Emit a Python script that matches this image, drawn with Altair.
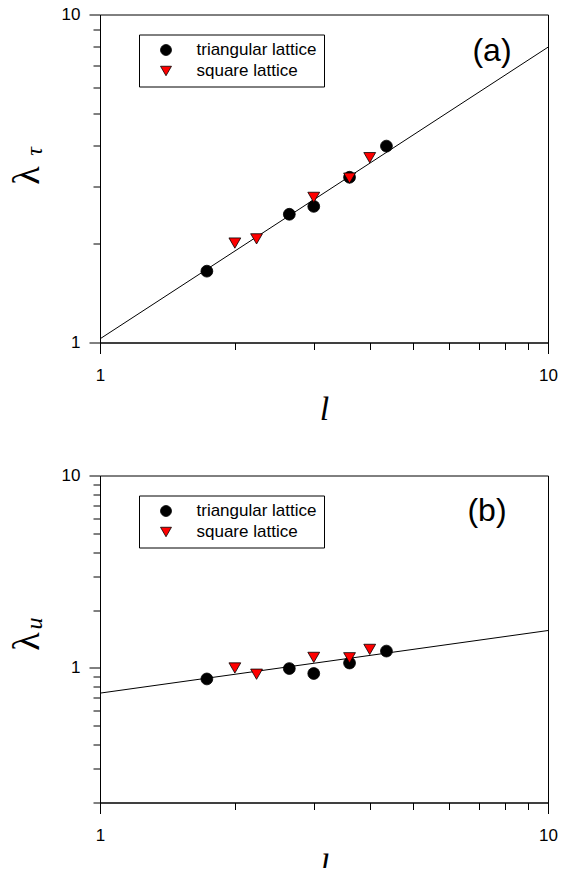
import altair as alt
import pandas as pd

# ---------------- data ----------------
series_names = ["triangular lattice", "square lattice"]
series_colors = ["black", "red"]
series_shapes = ["circle", "triangle-down"]

tri_l = [1.732, 2.646, 3.0, 3.606, 4.359]
sq_l = [2.0, 2.236, 3.0, 3.606, 4.0]

tri_tau = [1.65, 2.46, 2.60, 3.19, 3.97]
sq_tau = [2.01, 2.07, 2.77, 3.17, 3.66]

tri_u = [0.877, 0.993, 0.936, 1.061, 1.224]
sq_u = [1.0, 0.928, 1.135, 1.13, 1.249]

fit_l = [1.0, 10.0]
fit_tau = [1.026, 7.95]
fit_u = [0.74, 1.565]

x_ticks = [1, 2, 3, 4, 5, 6, 7, 8, 9, 10]
ya_ticks = [1, 2, 3, 4, 5, 6, 7, 8, 9, 10]
yb_ticks = [0.2, 0.3, 0.4, 0.5, 0.6, 0.7, 0.8, 0.9, 1, 2, 3, 4, 5, 6, 7, 8, 9, 10]

panel_labels = ["(a)", "(b)"]
y_symbol = "λ"
y_subs = ["τ", "u"]
x_title = "l"

FONT = "Liberation Sans"
SERIF = "Liberation Serif"
PLOT_W = 448

df_a = pd.DataFrame({"l": tri_l + sq_l, "v": tri_tau + sq_tau,
                     "series": [series_names[0]] * len(tri_l) + [series_names[1]] * len(sq_l)})
df_b = pd.DataFrame({"l": tri_l + sq_l, "v": tri_u + sq_u,
                     "series": [series_names[0]] * len(tri_l) + [series_names[1]] * len(sq_l)})
fit_a = pd.DataFrame({"l": fit_l, "v": fit_tau})
fit_b = pd.DataFrame({"l": fit_l, "v": fit_u})

major_test = "datum.value == 1 || datum.value == 10"
label_expr = "datum.value == 1 ? '1' : (datum.value == 10 ? '10' : '')"
tick_size = {"condition": {"test": major_test, "value": 11}, "value": 7}


def x_axis(title_pad):
    return alt.Axis(values=x_ticks, labelExpr=label_expr, tickSize=tick_size,
                    grid=False, domainColor="black", tickColor="black",
                    labelColor="black", labelFont=FONT, labelFontSize=17,
                    labelPadding=14, labelFlush=False, labelOverlap=False,
                    title=x_title, titleFont=SERIF, titleFontStyle="italic",
                    titleFontSize=34, titleFontWeight="normal", titleColor="black",
                    titlePadding=title_pad)


def y_axis(vals):
    return alt.Axis(values=vals, labelExpr=label_expr, tickSize=tick_size,
                    grid=False, domainColor="black", tickColor="black",
                    labelColor="black", labelFont=FONT, labelFontSize=17,
                    labelPadding=9, labelFlush=False, labelOverlap=False,
                    title=None)


def legend():
    return alt.Legend(title=None, orient="none", legendX=39, legendY=20,
                      direction="vertical", strokeColor="black", fillColor="white",
                      padding=7, symbolOffset=11.5, labelOffset=22,
                      labelFont=FONT, labelFontSize=17, labelColor="black",
                      symbolSize=120, symbolStrokeColor="black",
                      symbolStrokeWidth=0.8, rowPadding=3)


def panel(df, fit, y_domain, y_vals, label, sub, lab_pos, lam_pos, sub_pos, h, title_pad):
    xs = alt.Scale(type="log", domain=[1, 10], nice=False)
    ys = alt.Scale(type="log", domain=y_domain, nice=False)
    line = alt.Chart(fit).mark_line(color="black", strokeWidth=1).encode(
        x=alt.X("l:Q", scale=xs, axis=x_axis(title_pad)),
        y=alt.Y("v:Q", scale=ys, axis=y_axis(y_vals)),
    )
    pts = alt.Chart(df).mark_point(filled=True, size=140, stroke="black",
                                   strokeWidth=0.8, opacity=1).encode(
        x=alt.X("l:Q", scale=xs, axis=x_axis(title_pad)),
        y=alt.Y("v:Q", scale=ys, axis=y_axis(y_vals)),
        color=alt.Color("series:N", scale=alt.Scale(domain=series_names, range=series_colors),
                        legend=legend()),
        shape=alt.Shape("series:N", scale=alt.Scale(domain=series_names, range=series_shapes),
                        legend=legend()),
    )
    lab = alt.Chart(pd.DataFrame({"t": [label]})).mark_text(
        font=FONT, fontSize=32, align="center", baseline="middle", color="black"
    ).encode(x=alt.value(lab_pos[0]), y=alt.value(lab_pos[1]), text="t:N")
    lam = alt.Chart(pd.DataFrame({"t": [y_symbol]})).mark_text(
        font=SERIF, fontSize=38, angle=270, align="center", baseline="middle", color="black"
    ).encode(x=alt.value(lam_pos[0]), y=alt.value(lam_pos[1]), text="t:N")
    sb = alt.Chart(pd.DataFrame({"t": [sub]})).mark_text(
        font=SERIF, fontSize=24, fontStyle="italic", angle=270, align="center",
        baseline="middle", color="black"
    ).encode(x=alt.value(sub_pos[0]), y=alt.value(sub_pos[1]), text="t:N")
    return alt.layer(line, pts, lab, lam, sb).properties(width=PLOT_W, height=h)


panel_a = panel(df_a, fit_a, [1, 10], ya_ticks, panel_labels[0], y_subs[0],
                (392, 36), (-72, 161), (-65, 137), 328, 9)
panel_b = panel(df_b, fit_b, [0.2, 10], yb_ticks, panel_labels[1], y_subs[1],
                (387, 35), (-72, 166), (-65, 148), 327, 6)

chart = alt.vconcat(panel_a, panel_b, spacing=38).resolve_scale(
    x="independent", y="independent", color="independent", shape="independent"
).configure_view(stroke="black", strokeWidth=1).properties(
    padding={"left": 0, "top": -3.5, "right": -0.5, "bottom": -17}
)

chart.save("out.html", embed_options={"renderer": "svg", "actions": False})
